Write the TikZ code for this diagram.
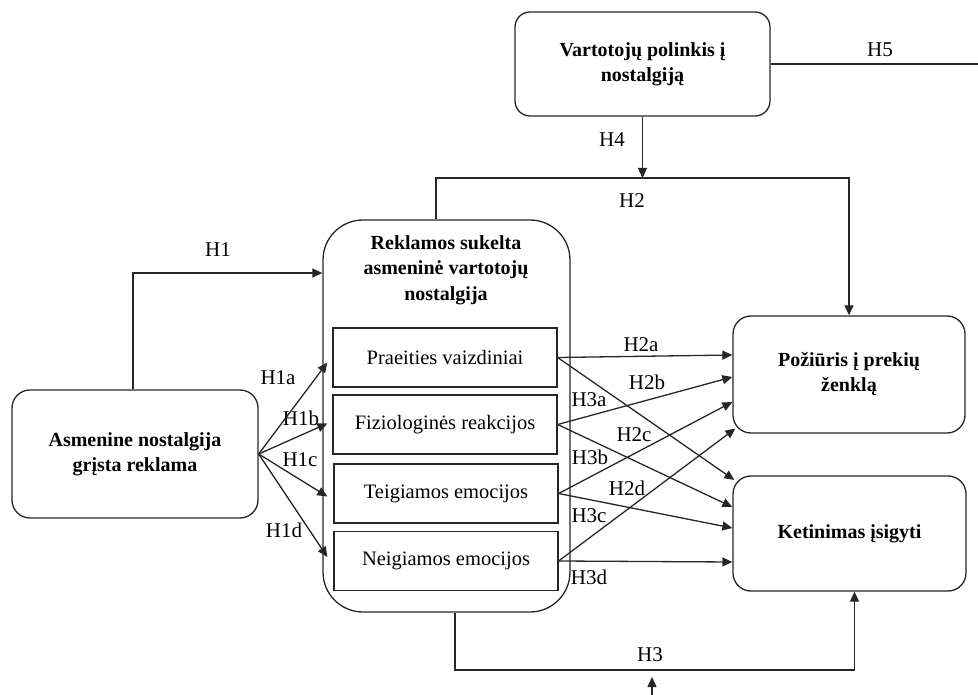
\documentclass[tikz,border=0pt]{standalone}
\usepackage{fontspec}
\setmainfont{Liberation Serif}
\usetikzlibrary{arrows.meta,calc}
\begin{document}
\begin{tikzpicture}[x=1pt,y=-1pt,
  every node/.style={font=\fontsize{20.5}{25}\selectfont},
  ln/.style={draw=black!85,line width=1.3pt},
  arr/.style={ln,-{Triangle[length=10pt,width=9pt]}},
  rbox/.style={ln,rounded corners=18pt,align=center,font=\fontsize{20}{25}\selectfont\bfseries},
  ibox/.style={ln,minimum width=224pt,minimum height=59pt,inner sep=0pt},
  lbl/.style={inner sep=0pt,font=\fontsize{21}{22}\selectfont}]
\useasboundingbox (0,0) rectangle (978,695);
% main boxes
\node[rbox,minimum width=255pt,minimum height=104pt,rounded corners=15pt] (vp) at (642.5,64) {Vartotojų polinkis į\\nostalgiją};
\node[ln,rounded corners=40pt,minimum width=247pt,minimum height=392pt] (big) at (446.5,416) {};
\node[align=center,font=\fontsize{20}{25.5}\selectfont\bfseries] (ttl) at (446,270) {Reklamos sukelta\\asmeninė vartotojų\\nostalgija};
\node[ibox] (pv) at (445,357.5) {Praeities vaizdiniai};
\node[ibox] (fr) at (445,424.5) {Fiziologinės reakcijos};
\node[ibox] (te) at (446,493.5) {Teigiamos emocijos};
\node[ibox] (ne) at (446,561) {Neigiamos emocijos};
\node[rbox,minimum width=246pt,minimum height=128pt] (as) at (135,454) {Asmenine nostalgija\\grįsta reklama};
\node[rbox,minimum width=232pt,minimum height=117pt] (pz) at (849,374.5) {Požiūris į prekių\\ženklą};
\node[rbox,minimum width=233pt,minimum height=115pt] (ki) at (849.5,533.5) {Ketinimas įsigyti};
% coordinates
\coordinate (h5e) at (978,64);
\coordinate (h2c) at (436,178);
\coordinate (h1c) at (133,273);
\coordinate (h3c) at (455,670);
\coordinate (b0) at (652,695);
\coordinate (b1) at (652,677);
% connectors
\draw[ln] (vp.east) -- (h5e);
\draw[arr] (vp.south) -- (vp.south |- h2c);
\draw[arr] (big.north -| h2c) -- (h2c) -| (pz.north);
\draw[arr] (as.north -| h1c) -- (h1c) -- (big.west |- h1c);
\draw[arr] (as.east) -- ($(pv.west)+(-5,5)$);
\draw[arr] (as.east) -- ($(fr.west)+(-5,-1)$);
\draw[arr] (as.east) -- ($(te.west)+(-6,3)$);
\draw[arr] (as.east) -- ($(ne.west)+(-6,-4)$);
% H2a-d
\draw[arr] (pv.east) -- ($(pz.west)+(0,-19.5)$);
\draw[arr] (fr.east) -- ($(pz.west)+(0,2.5)$);
\draw[arr] (te.east) -- ($(pz.west)+(0,27.5)$);
\draw[arr] (ne.east) -- ($(pz.west)+(3,54)$);
% H3a-d
\draw[arr] (pv.east) -- ($(ki.west)+(2,-53.5)$);
\draw[arr] (fr.east) -- ($(ki.west)+(0,-26.5)$);
\draw[arr] (te.east) -- ($(ki.west)+(0,-5.5)$);
\draw[arr] (ne.east) -- ($(ki.west)+(0,28.5)$);
\draw[arr] (big.south -| h3c) -- (h3c) -| ([xshift=5pt]ki.south);
\draw[arr] (b0) -- (b1);
% labels
\node[lbl] (lh5) at (880,50) {H5};
\node[lbl] (lh4) at (612,140) {H4};
\node[lbl] (lh2) at (632,201) {H2};
\node[lbl] (lh1) at (218,250) {H1};
\node[lbl] (lh1a) at (278,378) {H1a};
\node[lbl] (lh1b) at (301,418) {H1b};
\node[lbl] (lh1c) at (300,460) {H1c};
\node[lbl] (lh1d) at (284,530) {H1d};
\node[lbl] (lh2a) at (641,345) {H2a};
\node[lbl] (lh2b) at (647,382) {H2b};
\node[lbl] (lh2c) at (634,435) {H2c};
\node[lbl] (lh2d) at (627,488) {H2d};
\node[lbl] (lh3a) at (589,400) {H3a};
\node[lbl] (lh3b) at (590,457) {H3b};
\node[lbl] (lh3c) at (589,516) {H3c};
\node[lbl] (lh3d) at (589,577) {H3d};
\node[lbl] (lh3) at (650,655) {H3};
\end{tikzpicture}
\end{document}
